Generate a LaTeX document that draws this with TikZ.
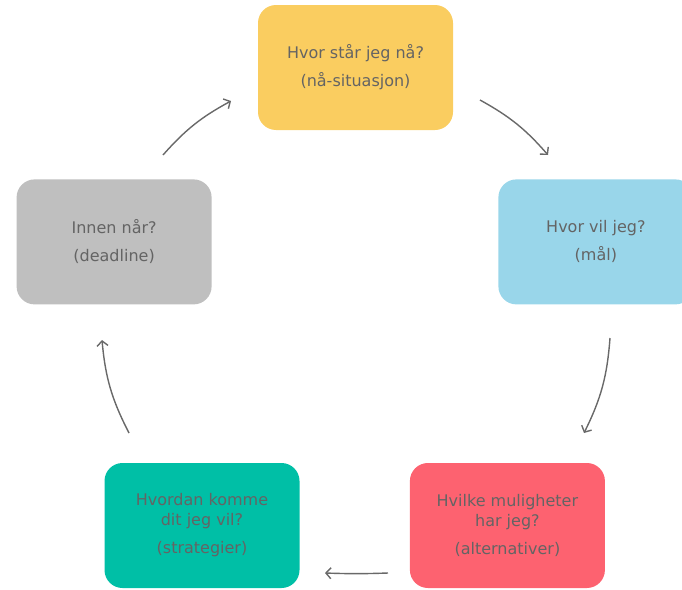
\documentclass[tikz,border=0pt]{standalone}
\usepackage{fontspec}
\setmainfont{DejaVu Sans}
\usepackage{tikz}
\usetikzlibrary{
  arrows.meta,
  positioning,
}
\definecolor{boxyellow}{RGB}{250, 205, 96}
\definecolor{boxblue}{RGB}{153, 214, 234}
\definecolor{boxgray}{RGB}{191, 191, 191}
\definecolor{boxteal}{RGB}{0, 191, 166}
\definecolor{boxred}{RGB}{253, 98, 112}
\definecolor{textgray}{RGB}{100, 100, 100}
\definecolor{arrowgray}{RGB}{105, 105, 105}
\tikzstyle{box} = [
  rectangle,
  rounded corners=18pt,
  minimum width=195pt,
  minimum height=125pt,
  inner sep=0pt,
  align=center,
  text=textgray,
  font=\fontsize{16}{20}\selectfont,
]
\tikzstyle{arrow} = [
  -{Straight Barb[length=5pt,width=11pt]},
  line width=1.4pt,
  arrowgray,
]

\begin{document}
\begin{tikzpicture}[x=1pt,y=-1pt,node distance=0pt and 0pt]
        \useasboundingbox (0,0) rectangle (682,589);

        \node[box,fill=boxyellow]    (now)    at (355.5,67.5)    {Hvor står jeg nå?\\[8pt](nå-situasjon)};
        \node[box,fill=boxblue]    (goal)    [below right=49pt and 45pt of now]    {Hvor vil jeg?\\[8pt](mål)};
        \node[box,fill=boxgray]    (when)    [below left=49pt and 46pt of now]    {Innen når?\\[8pt](deadline)};
        \node[box,fill=boxteal]    (how)    at (202,525.5)    {Hvordan komme\\dit jeg vil?\\[8pt](strategier)};
        \node[box,fill=boxred]    (alt)    [right=110pt of how]    {Hvilke muligheter\\har jeg?\\[8pt](alternativer)};

        % arrow ends, in the gaps between the boxes
        \coordinate (now-out) at (480,100);
        \coordinate (goal-in) at (548,155);
        \coordinate (goal-out) at (610,338);
        \coordinate (alt-in) at (584,433);
        \coordinate (alt-out) at (388,573);
        \coordinate (how-in) at (325,573);
        \coordinate (how-out) at (129,433);
        \coordinate (when-in) at (102,340);
        \coordinate (when-out) at (163,155);
        \coordinate (now-in) at (231,101);

        \draw[arrow] (now-out) to[bend left=10] (goal-in);
        \draw[arrow] (goal-out) to[bend left=11] (alt-in);
        \draw[arrow] (alt-out) to[bend left=2] (how-in);
        \draw[arrow] (how-out) to[bend left=11] (when-in);
        \draw[arrow] (when-out) to[bend left=10] (now-in);
    \end{tikzpicture}
\end{document}
